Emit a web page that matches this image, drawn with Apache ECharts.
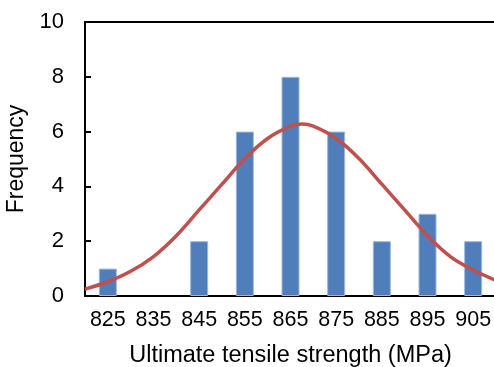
<!DOCTYPE html>
<html>
<head>
<meta charset="utf-8">
<script src="https://cdn.jsdelivr.net/npm/echarts@6/dist/echarts.min.js"></script>
<style>
html, body { margin: 0; padding: 0; background: #fff; }
#chart { width: 494px; height: 367px; }
</style>
</head>
<body>
<div id="chart"></div>
<script>
// histogram bins (MPa) and counts
var categories = ['825', '835', '845', '855', '865', '875', '885', '895', '905'];
var counts = [1, 0, 2, 6, 8, 6, 2, 3, 2];
// fitted normal curve
var curveX = [820, 825, 830, 835, 840, 845, 850, 855, 860, 865, 867.5, 870, 875, 880, 885, 890, 895, 900, 905, 910];
var curveY = [0.25, 0.52, 0.9, 1.44, 2.2, 3.14, 4.08, 5.02, 5.75, 6.2, 6.28, 6.2, 5.75, 5.02, 4.08, 3.14, 2.2, 1.44, 0.95, 0.57];
var yTicks = [0, 2, 4, 6, 8, 10];

var curveData = curveX.map(function (x, i) { return [x, curveY[i]]; });
var barData = counts.map(function (v) {
  return v === 0 ? { value: v, itemStyle: { borderWidth: 0 } } : v;
});

var myChart = echarts.init(document.getElementById('chart'));
var font = 'Liberation Sans, Arial, sans-serif';
var option = {
  animation: false,
  grid: { left: 85, right: -2, top: 22, bottom: 71, outerBoundsMode: 'none' },
  xAxis: [
    {
      type: 'category',
      data: categories,
      boundaryGap: true,
      name: 'Ultimate tensile strength (MPa)',
      nameLocation: 'middle',
      nameGap: 48,
      nameTextStyle: { color: '#000', fontSize: 23.5, fontFamily: font },
      axisLine: { lineStyle: { color: '#000', width: 2 } },
      axisTick: { inside: true, length: 6, lineStyle: { color: '#000', width: 2 } },
      axisLabel: { interval: 0, hideOverlap: false, color: '#000', fontSize: 21.5, fontFamily: font, margin: 13 },
      splitLine: { show: false }
    },
    {
      type: 'value',
      position: 'top',
      min: 820,
      max: 910,
      axisLine: { show: true, onZero: false, lineStyle: { color: '#000', width: 2 } },
      axisTick: { show: false },
      axisLabel: { show: false },
      splitLine: { show: false }
    }
  ],
  yAxis: {
    type: 'value',
    min: 0,
    max: 10,
    interval: 2,
    name: 'Frequency',
    nameLocation: 'middle',
    nameGap: 56,
    nameTextStyle: { color: '#000', fontSize: 23, fontFamily: font },
    axisLine: { show: true, lineStyle: { color: '#000', width: 2 } },
    axisTick: { show: true, inside: true, length: 6, lineStyle: { color: '#000', width: 2 } },
    axisLabel: {
      color: '#000', fontSize: 22, fontFamily: font, margin: 21,
      formatter: function (v) { return yTicks.indexOf(v) >= 0 ? String(v) : ''; }
    },
    splitLine: { show: false }
  },
  series: [
    {
      type: 'bar',
      data: barData,
      xAxisIndex: 0,
      barWidth: 18,
      itemStyle: { color: '#4F7EBA', borderColor: '#9DB8DC', borderWidth: 1 }
    },
    {
      type: 'line',
      data: curveData,
      xAxisIndex: 1,
      smooth: 0.35,
      showSymbol: false,
      lineStyle: { color: '#C0504D', width: 3.5 }
    }
  ]
};
myChart.setOption(option);
</script>
</body>
</html>
